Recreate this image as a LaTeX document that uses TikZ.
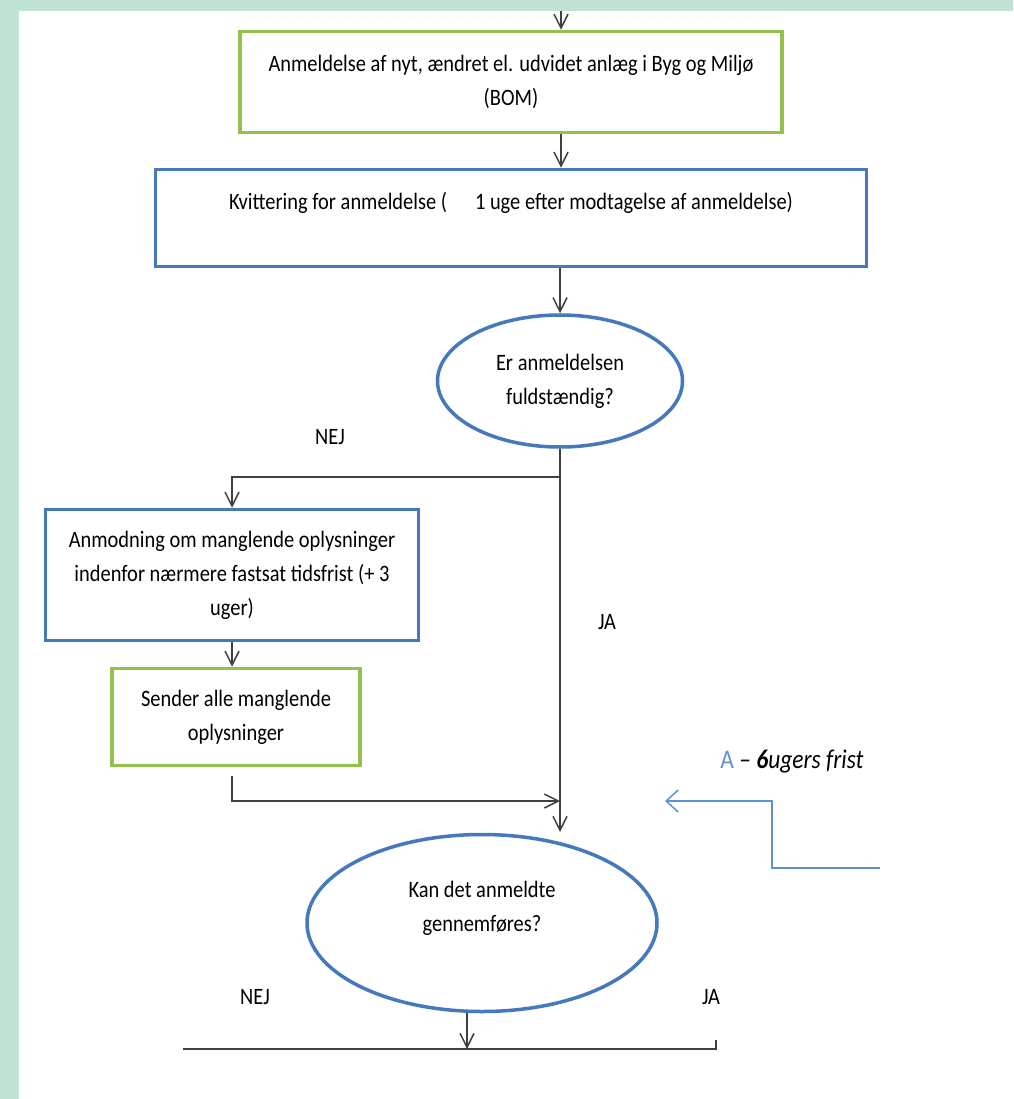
\documentclass[tikz,border=0pt]{standalone}
\usepackage{fontspec}
\setmainfont[FakeStretch=0.87]{Carlito}
\usetikzlibrary{arrows.meta}
\usetikzlibrary{positioning, shapes.geometric}
\definecolor{mint}{RGB}{192,227,211}
\definecolor{boxgreen}{RGB}{146,194,76}
\definecolor{boxblue}{RGB}{70,120,190}
\definecolor{fristblue}{RGB}{95,145,215}

\begin{document}
\begin{tikzpicture}[x=1pt, y=-1pt,
    greenbox/.style={rectangle, draw=boxgreen, line width=3.5pt},
    bluebox/.style={rectangle, draw=boxblue, line width=3.5pt},
    blueoval/.style={ellipse, draw=boxblue, line width=3.5pt, inner sep=0pt},
    flow/.style={draw=black!75, line width=1.5pt},
    >={Straight Barb[length=14pt, width=14pt]}]

    % page and margins
    \useasboundingbox (0,0) rectangle (1013,1099);
    \fill[mint] (0,0) rectangle (1013,1099);
    \fill[white] (19,11) rectangle (1013,1099);

    % Add or remove nodes here, use the tuple for location
    \begin{scope}[every node/.style={align=center, text=black,
                  font=\fontsize{23.5}{34}\selectfont}]
    \node[greenbox, minimum width=542, minimum height=101] (Anm) at (511,82)
        {Anmeldelse af nyt, ændret el. udvidet anlæg i Byg og Miljø\\(BOM)};
    \node[bluebox, minimum width=711, minimum height=97] (Kvit) at (511,218)
        {Kvittering for anmeldelse (\hspace*{28pt}1 uge efter modtagelse af anmeldelse)\\~};
    \node[blueoval, minimum width=245, minimum height=132] (Q1) at (560,381)
        {Er anmeldelsen\\fuldstændig?};
    \node[bluebox, minimum width=373, minimum height=131] (Anmod) at (232,575)
        {Anmodning om manglende oplysninger\\indenfor nærmere fastsat tidsfrist (+ 3\\uger)};
    \node[greenbox, minimum width=248, minimum height=97] (Send) at (236,717)
        {Sender alle manglende\\oplysninger};
    \node[blueoval, minimum width=350, minimum height=177] (Q2) at (482,923)
        {Kan det anmeldte\\gennemføres?\\~};

    \node (nej1) at (330,437) {NEJ};
    \node (ja1) at (607,622) {JA};
    \node (nej2) at (255,997) {NEJ};
    \node (ja2) at (711,997) {JA};
    \node[font=\fontsize{27}{34}\selectfont] (frist) at (792,762)
        {\textcolor{fristblue}{A} -- \textbf{\textit{6}}\textit{ugers frist}};
    \end{scope}

    % free ends
    \coordinate (top) at (561,11);
    \coordinate (split) at (560,477);
    \coordinate (join) at (560,801);
    \coordinate (q2in) at (560,832);
    \coordinate (barL) at (183,1049);
    \coordinate (barR) at (716,1049);
    \coordinate (fristR) at (880,868);
    \coordinate (fristTip) at (665,801);

    % connectors
    \begin{scope}[every edge/.style={flow}]
    \path [->] (top) edge (top |- Anm.north);
    \path [->] (Anm.south -| top) edge (Kvit.north -| top);
    \path [->] (Kvit.south -| Q1.north) edge (Q1.north);
    \path [->] (Q1.south) edge (q2in);
    \path [->] (Anmod.south) edge (Anmod.south |- Send.north);
    \path [->] ([xshift=-15pt]Q2.south) edge ([xshift=-15pt]Q2.south |- barL);
    \draw [->, flow] (split) -| (Anmod.north);
    \draw [->, flow] ([yshift=-9pt]Send.south -| Anmod.south) |- (join);
    \draw [flow] (barL) -- (barR) -- ++(0,-9);
    \end{scope}

    \draw [->, fristblue, line width=1.5pt, >={Straight Barb[length=12pt, width=22pt]}]
        (fristR) -- ++(-108,0) |- (fristTip);

\end{tikzpicture}
\end{document}
